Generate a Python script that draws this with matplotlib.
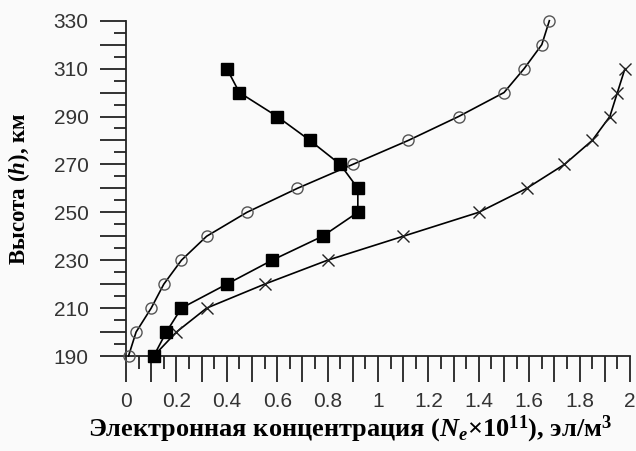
import numpy as np
import matplotlib
matplotlib.use('Agg')
import matplotlib.pyplot as plt
from matplotlib.ticker import MultipleLocator

# heights, km
h_circ = [190, 200, 210, 220, 230, 240, 250, 260, 270, 280, 290, 300, 310, 320, 330]
ne_circ = [0.01, 0.04, 0.10, 0.15, 0.22, 0.32, 0.48, 0.68, 0.90, 1.12, 1.32, 1.50, 1.58, 1.65, 1.68]

h_sq = [190, 200, 210, 220, 230, 240, 250, 260, 270, 280, 290, 300, 310]
ne_sq = [0.11, 0.16, 0.22, 0.40, 0.58, 0.78, 0.92, 0.92, 0.85, 0.73, 0.60, 0.45, 0.40]

h_x = [190, 200, 210, 220, 230, 240, 250, 260, 270, 280, 290, 300, 310]
ne_x = [0.11, 0.20, 0.32, 0.55, 0.80, 1.10, 1.40, 1.59, 1.74, 1.85, 1.92, 1.95, 1.98]

xticklabels = ['0', '0.2', '0.4', '0.6', '0.8', '1', '1.2', '1.4', '1.6', '1.8', '2']
yticklabels = ['190', '210', '230', '250', '270', '290', '310', '330']

plt.rcParams['mathtext.fontset'] = 'custom'
plt.rcParams['mathtext.rm'] = 'Liberation Serif:bold'
plt.rcParams['mathtext.it'] = 'Liberation Serif:italic:bold'
plt.rcParams['mathtext.bf'] = 'Liberation Serif:bold'

bg = '#fafafa'
fig = plt.figure(figsize=(6.36, 4.51), dpi=100, facecolor=bg)
ax = fig.add_axes([126/636, (451-356)/451, (630-126)/636, (356-20.7)/451])
ax.set_facecolor(bg)

ax.plot(ne_circ, h_circ, '-', color='black', lw=1.2, marker='o', ms=8,
        mfc='none', mec='#555555', mew=1.0, clip_on=False, zorder=3)
ax.plot(ne_sq, h_sq, '-', color='black', lw=1.2, marker='s', ms=8,
        mfc='black', mec='black', clip_on=False, zorder=4)
ax.plot(ne_x, h_x, '-', color='black', lw=1.2, marker='x', ms=9,
        mec='#222222', mew=1.0, clip_on=False, zorder=3)

ax.set_xlim(0, 2)
ax.set_ylim(190, 330)
ax.spines['top'].set_visible(False)
ax.spines['right'].set_visible(False)
for s in ['left', 'bottom']:
    ax.spines[s].set_linewidth(1.3)
    ax.spines[s].set_color('#222222')

# long ticks every 0.1 / 10 km, labels on every other one
xmaj = np.linspace(0, 2, 21)
xlabs = []
for i in range(len(xmaj)):
    xlabs.append(xticklabels[i // 2] if i % 2 == 0 else '')
ax.set_xticks(xmaj)
ax.set_xticklabels(xlabs)
ax.xaxis.set_minor_locator(MultipleLocator(0.05))

ymaj = np.linspace(190, 330, 15)
ylabs = []
for i in range(len(ymaj)):
    ylabs.append(yticklabels[i // 2] if i % 2 == 0 else '')
ax.set_yticks(ymaj)
ax.set_yticklabels(ylabs)
ax.yaxis.set_minor_locator(MultipleLocator(5))

ax.tick_params(axis='both', which='major', direction='out', length=19, width=1.3,
               color='#222222', labelsize=15, labelcolor='#333333')
ax.tick_params(axis='both', which='minor', direction='out', length=9, width=1.3,
               color='#222222')
ax.tick_params(axis='x', which='major', pad=7)
ax.tick_params(axis='y', which='major', pad=8)
for lab in ax.get_xticklabels() + ax.get_yticklabels():
    lab.set_family('Liberation Sans')

ax.set_xlabel('Электронная концентрация ($N_e$×10$^{11}$), эл/м$^3$',
              family='Liberation Serif', weight='bold', fontsize=19)
ax.xaxis.set_label_coords(0.445, -0.172)
ax.set_ylabel('Высота ($h$), км', family='Liberation Serif', weight='bold',
              fontsize=16.5)
ax.yaxis.set_label_coords(-0.186, 0.5)

fig.savefig('out.png', dpi=100, facecolor=bg)
